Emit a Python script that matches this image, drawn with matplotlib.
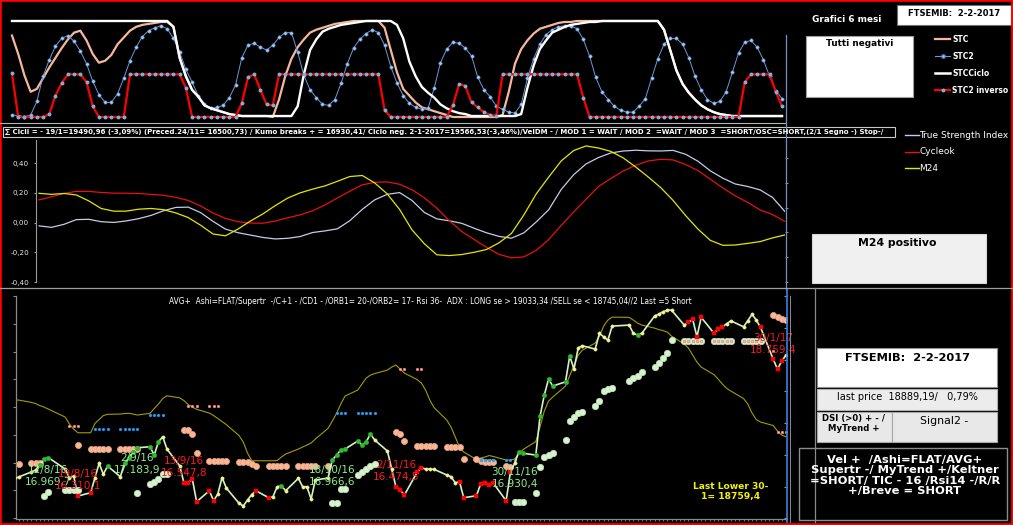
import numpy as np
import pandas as pd
import matplotlib
matplotlib.use('Agg')
import matplotlib.pyplot as plt
import matplotlib.dates as mdates
from matplotlib.patches import Rectangle
from matplotlib.lines import Line2D
from matplotlib.ticker import FuncFormatter, NullLocator

# ---------------- top panel: STC oscillators (125 sessions) ----------------
stc = [84, 65, 43, 26, 29, 40, 51, 61, 71, 80, 87, 89, 79, 65, 56, 58, 64, 75, 82, 89, 93, 95, 96, 97, 98, 98,
       93, 61, 42, 28, 21, 12, 9, 7, 5, 3, 2, 1, 1, 1, 1, 1,
       0, 18, 42, 60, 72, 80, 87, 90, 92, 94, 96, 97, 98, 99, 99, 99, 99, 99,
       92, 69, 46, 29, 22, 15, 10, 8, 6, 4, 2, 0, 0, 0, 0, 0, 0, 0, 0,
       2, 26, 55, 70, 79, 86, 91, 93, 95, 97, 98, 98, 99, 99, 99, 99, 99, 99, 99, 99, 99, 99, 99, 99, 99, 99,
       90, 69, 48, 34, 25, 18, 12, 8, 5, 3, 2, 1, 1, 1, 1, 1, 1, 1, 1, 1]
stc2 = [2, 1.5, 0.5, 2, 16, 42, 59, 73, 81, 84, 78, 68, 55, 37, 23, 15, 15, 24, 40, 58,
        72, 83, 89, 92, 94, 91, 81, 67, 49, 36, 22, 13, 9, 10, 12, 20, 33, 61, 74, 76,
        72, 69, 74, 82, 87, 87, 67, 43, 28, 20, 13, 12, 18, 35, 55, 71, 80, 86, 90, 87,
        74, 52, 35, 22, 14, 10, 8, 9, 30, 56, 70, 77, 76, 71, 63, 41, 28, 21, 11, 8,
        5, 4, 13, 40, 60, 75, 85, 90, 93, 94, 94, 91, 80, 63, 41, 26, 18, 11, 7, 5,
        5, 11, 19, 40, 60, 75, 81, 81, 75, 61, 42, 28, 18, 14, 16, 26, 46, 66, 77, 79,
        72, 59, 42, 27, 19]
stc_ciclo = [99, 99, 99, 99, 99, 99, 99, 99, 99, 99, 99, 99, 99, 99, 99, 99, 99, 99, 99, 99, 99, 99, 99, 99, 99, 99,
             93, 61, 42, 28, 21, 12, 9, 7, 5, 3, 2,
             1, 1, 1, 1, 1, 1, 1, 1, 1,
             11, 44, 69, 80, 88, 91, 93, 95, 96, 97, 98,
             99, 99, 99, 99, 99,
             95, 81, 57, 42, 31, 25, 20, 13, 9, 6, 4, 3,
             1, 1, 1, 1, 1, 1, 1, 1,
             3, 30, 53, 70, 79, 87, 90, 93, 95, 96, 97, 98, 98,
             99, 99, 99, 99, 99, 99, 99, 99, 99, 99,
             90, 69, 48, 34, 25, 18, 12, 8, 5, 3, 2,
             1, 1, 1, 1, 1, 1, 1, 1, 1]
stc2_inv = [45, 0, 0, 0, 0, 0, 3, 22, 35, 44, 44, 44, 36, 11, 0, 0, 0, 0, 0,
            44, 44, 44, 44, 44, 44, 44, 44, 44, 30, 0, 0, 0, 0, 0, 0, 0, 0,
            14, 41, 44, 28, 13, 12,
            44, 44, 44, 44, 44, 44, 44, 44, 44, 44, 44, 44, 44, 44, 44, 44, 44,
            7, 0, 0, 0, 0, 0, 0, 0, 0, 0, 0,
            12, 34, 32, 15, 10, 5, 2, 1,
            44, 44, 44, 44, 44, 44, 44, 44, 44, 44, 44, 44, 44, 20,
            0, 0, 0, 0, 0, 0, 0, 0, 0, 0, 0, 0, 0, 0, 0, 0, 0, 0, 0, 0, 0, 0, 0, 0, 0,
            36, 44, 44, 44, 44, 26, 11]

# ---------------- middle panel: TSI / Cycleok / M24 ----------------
tsi = [-0.022, -0.032, -0.012, 0.02, 0.022, 0.006, 0.001, 0.011, 0.026, 0.048,
       0.079, 0.102, 0.104, 0.067, 0.008, -0.044, -0.068, -0.084, -0.1, -0.11,
       -0.106, -0.094, -0.067, -0.056, -0.042, 0.013, 0.089, 0.153, 0.19, 0.202,
       0.149, 0.068, 0.025, 0.012, -0.005, -0.038, -0.069, -0.093, -0.105, -0.069,
       0.005, 0.087, 0.223, 0.322, 0.395, 0.438, 0.469, 0.482, 0.487, 0.483,
       0.482, 0.486, 0.46, 0.413, 0.348, 0.299, 0.26, 0.243, 0.22, 0.169, 0.074]
cycleok = [0.153, 0.173, 0.196, 0.21, 0.21, 0.203, 0.198, 0.198, 0.196, 0.19,
           0.184, 0.17, 0.149, 0.112, 0.064, 0.028, 0.006, -0.003, -0.004, 0.01,
           0.032, 0.052, 0.079, 0.119, 0.166, 0.211, 0.254, 0.271, 0.274, 0.258,
           0.221, 0.166, 0.097, 0.013, -0.06, -0.114, -0.167, -0.214, -0.237, -0.231,
           -0.186, -0.114, -0.019, 0.071, 0.157, 0.243, 0.297, 0.348, 0.386, 0.415,
           0.426, 0.422, 0.391, 0.35, 0.292, 0.233, 0.18, 0.136, 0.085, 0.054, 0.007]
m24 = [0.197, 0.19, 0.196, 0.186, 0.146, 0.095, 0.077, 0.077, 0.09, 0.095,
       0.087, 0.065, 0.034, -0.018, -0.077, -0.089, -0.044, 0.01, 0.058, 0.114,
       0.165, 0.2, 0.225, 0.247, 0.278, 0.31, 0.317, 0.267, 0.194, 0.089,
       -0.049, -0.143, -0.217, -0.222, -0.215, -0.2, -0.181, -0.136, -0.073, 0.052,
       0.194, 0.307, 0.415, 0.485, 0.516, 0.502, 0.479, 0.435, 0.374, 0.307,
       0.236, 0.149, 0.048, -0.044, -0.12, -0.153, -0.151, -0.14, -0.128, -0.103, -0.083]

# ---------------- bottom panel: FTSEMIB daily, 4/8/2016 - 2/2/2017 ----------------
first_day, last_day = '2016-08-04', '2017-02-02'
holidays = ['2016-08-15', '2016-12-26']
price = [16604, 16640, 16730, 16766, 16856, 16964, 16991, 16784, 16622, 16658, 16298, 16357, 16622, 16887, 16689, 16838, 16645, 16887, 16982,
         17090, 17167, 17185, 17036, 17275, 17365, 17144, 16843, 16537, 16537, 16599, 16195, 16393, 16213, 16334, 16631, 16442, 16167, 16118, 16226, 16325, 16393,
         16267, 16285, 16465, 16483, 16393, 16617, 16465, 16465, 16244, 16586, 16622, 16946, 17036, 17126, 17144, 17288, 17216, 17275, 17414, 17306, 17108,
         16784, 16465, 16406, 16316, 16725, 16807, 16784, 16784, 16779, 16676, 16645, 16537, 16555, 16267, 16303, 16519, 16537, 16496, 16527, 16213, 16725, 16887,
         17095, 17067, 17036, 17738, 18116, 18404, 18278, 18355, 18818, 18584, 18967, 19003, 18944, 19227, 19165, 19106, 19358, 19376, 19227, 19196, 19227,
         19538, 19574, 19615, 19646, 19646, 19376, 19425, 19479, 19165, 19515, 19232, 19299, 19345, 19399, 19453, 19345, 19457, 19569, 19466, 19335, 18759, 18584,
         18728, 18836]
# marker per session: y = neutral, g = up signal, r = down signal
signal = ("yyyygggyyyrryyygygg"
          "gggggyyyrrrrrryyyyyyyr"
          "ryygyyyyyyyggggggggyy"
          "yrrrrryyyyyyrrrrrrrrry"
          "gggggggggyyyyyyyyyygy"
          "yyyyyyrrrrrrryyyyyyrrr"
          "ry")
avg_line = [18026, 18026, 17985, 17963, 17927, 17900, 17864, 17720, 17594, 17504, 17437, 17437, 17603, 17675, 17747, 17769, 17774, 17783, 17787,
            17774, 17756, 17787, 17873, 17954, 18053, 18103, 18066, 18017, 17945, 17900, 17859, 17792, 17747, 17693, 17639, 17585, 17387, 17270, 17072, 16933, 16933,
            16933, 16933, 16937, 17000, 17054, 17144, 17180, 17216, 17252, 17324, 17517, 17648, 17787, 17954, 18098, 18206, 18314, 18422, 18476, 18503, 18566,
            18620, 18656, 18584, 18512, 18395, 18332, 18206, 18026, 17891, 17666, 17540, 17360, 17180, 17090, 16955, 16982, 17000, 17027, 17009, 16946, 16946, 16964,
            17063, 17135, 17279, 17545, 17828, 18008, 18080, 18278, 18467, 18647, 18836, 18926, 19052, 19178, 19358, 19466, 19520, 19515, 19466, 19412, 19376,
            19322, 19295, 19277, 19250, 19178, 19034, 18962, 18836, 18710, 18620, 18485, 18404, 18314, 18237, 18188, 18053, 17954, 17792, 17675, 17630, 17567, 17468,
            17396, 17365]
N = None
resist = [N, 16874, 16887, 16887, 16887, N, N, N, N, N, 17216, 17144, 17144, 17144, 17144, 17144, 17144, 17144, 17144,
          17144, 17144, N, N, N, N, N, N, 17486, 17486, 17409, 17077, 16928, 16928, 16928, 16928, 16928, 16915, 16915, 16915, 16874, 16838,
          16838, 16838, 16838, 16838, 16838, 16838, 16838, 16838, 16838, 16838, 16838, N, N, N, N, N, N, N, N, N, N,
          N, 17455, 17414, 17293, 17198, 17198, 17198, 17198, 17198, 17185, 17185, 17185, 17185, 16964, 16964, 16928, 16905, 16905, 16905, 16843, 16825, N,
          N, N, N, N, N, N, N, N, N, N, N, N, N, N, N, N, N, N, N, N, N,
          N, N, N, N, N, N, N, N, N, N, N, N, N, N, N, N, N, N, N, N, 19556, 19520,
          19493, 19466]
support = [N, N, N, N, N, 16298, 16375, 16406, 16406, 16406, 16406, N, N, N, N, N, N, N, N,
           N, 16357, 16514, 16555, 16604, 16694, 16694, N, N, N, N, N, N, N, N, N, N, N, N, N, N, N,
           N, N, N, N, N, N, N, N, N, N, N, 16177, 16177, 16419, 16419, 16676, 16730, 16784, 16838, 16874, N,
           N, N, N, N, N, N, N, N, N, N, N, N, N, N, N, N, N, N, N, N, N, 16185,
           16185, 16185, 16347, 16825, 17005, 17036, 17067, 17306, 17648, 17725, 17787, 17815, 17918, 18013, 18193, 18224, 18247, 18368, 18417, 18458, 18535,
           18625, 18687, 18777, 18877, 19106, 19093, 19093, 19093, 19093, 19093, 19093, 19093, 19093, 19093, 19093, 19093, 19093, 19093, 19093, 19093, N, N,
           N, N]
blue_dates = ['2016-08-23', '2016-08-24', '2016-08-25', '2016-08-26', '2016-08-29', '2016-08-30', '2016-08-31', '2016-09-01', '2016-09-02',
              '2016-09-05', '2016-09-06', '2016-09-07', '2016-09-08',
              '2016-10-19', '2016-10-20', '2016-10-21', '2016-10-24', '2016-10-25', '2016-10-26', '2016-10-27', '2016-10-28',
              '2016-11-22', '2016-11-23', '2016-11-24', '2016-11-25', '2016-11-28', '2016-11-29', '2016-11-30']
blue_vals = [17499, 17499, 17499, 17499, 17499, 17499, 17499, 17499, 17499,
             17756, 17756, 17756, 17756,
             17797, 17797, 17797, 17797, 17797, 17797, 17797, 17797,
             16941, 16941, 16941, 16941, 16941, 16941, 16941]
pink_dates = ['2016-08-17', '2016-08-18', '2016-08-19', '2016-09-14', '2016-09-15', '2016-09-16', '2016-09-19', '2016-09-20', '2016-09-21',
              '2016-11-03', '2016-11-04', '2016-11-07', '2016-11-08',
              '2017-01-09', '2017-01-10', '2017-01-11', '2017-01-12', '2017-01-13', '2017-01-16', '2017-01-17', '2017-01-18',
              '2017-01-19', '2017-01-20', '2017-01-23', '2017-01-24', '2017-01-25', '2017-01-26', '2017-01-27',
              '2017-01-30', '2017-01-31', '2017-02-01', '2017-02-02']
pink_vals = [17558, 17558, 17558, 17918, 17918, 17918, 17918, 17918, 17918,
             18579, 18579, 18579, 18579,
             19093, 19093, 19093, 19093, 19093, 19093, 19093, 19093, 19093, 19093, 19093, 19093, 19093, 19093, 19093,
             18908, 17445, 17445, 17445]
swing_dates = ['2016-08-12', '2016-08-19', '2016-09-02', '2016-09-13', '2016-10-18', '2016-11-02', '2016-11-30', '2017-01-30']
swing_vals = [16969.7, 16310.1, 17183.9, 16547.8, 16966.6, 16474.5, 16930.4, 18759.4]
swing_high = [True, False, True, False, True, False, True, False]

header2 = ("∑ Cicli = - 19/1=19490,96 (-3,09%) (Preced.24/11= 16500,73) / Kumo breaks + = 16930,41/ "
           "Ciclo neg. 2-1-2017=19566,53(-3,46%)/VelDM - / MOD 1 = WAIT / MOD 2  =WAIT / MOD 3  "
           "=SHORT/OSC=SHORT,(2/1 Segno -) Stop-/")
title3 = ("AVG+  Ashi=FLAT/Supertr  -/C+1 - /CD1 - /ORB1= 20-/ORB2= 17- Rsi 36-  ADX : LONG se > 19033,34 "
          "/SELL se < 18745,04//2 Last =5 Short")
summary = "Vel +  /Ashi=FLAT/AVG+\nSupertr -/ MyTrend +/Keltner\n=SHORT/ TIC - 16 /Rsi14 -/R/R\n+/Breve = SHORT"

days = pd.bdate_range(first_day, last_day)
days = days[~days.isin(pd.to_datetime(holidays))]
for s in (price, avg_line, resist, support, signal):
    assert len(s) == len(days), len(s)

W, H = 1013, 525
fig = plt.figure(figsize=(W / 100, H / 100), dpi=100, facecolor='black')
R = fig.canvas.get_renderer()


def pax(l, t, r, b):
    ax = fig.add_axes([l / W, 1 - b / H, (r - l) / W, (b - t) / H])
    ax.set_facecolor('none')
    for s in ax.spines.values():
        s.set_visible(False)
    return ax


def ftext(x, y, s, **kw):
    kw.setdefault('ha', 'center')
    kw.setdefault('va', 'center')
    return fig.text(x / W, 1 - y / H, s, **kw)


def fit(t, px):
    w = t.get_window_extent(renderer=R).width
    t.set_fontsize(t.get_fontsize() * px / w)


def fline(xs, ys, **kw):
    fig.add_artist(Line2D([x / W for x in xs], [1 - y / H for y in ys], **kw))


def fbox(l, t, r, b, fc, ec, lw=0.8):
    fig.add_artist(Rectangle((l / W, 1 - b / H), (r - l) / W, (b - t) / H, fc=fc, ec=ec, lw=lw,
                             transform=fig.transFigure))


# ---------------- top panel ----------------
ax1 = pax(8, 8, 786, 120)
i1 = np.arange(len(stc))
ax1.plot(i1, stc, color='#f6b89c', lw=1.6)
ax1.plot(i1, stc2, color='#6a9ad8', lw=0.7, marker='o', ms=2.4, mfc='#a8cbef', mec='#5a88c8', mew=0.4)
ax1.plot(i1, stc_ciclo, color='white', lw=1.7)
ax1.plot(i1, stc2_inv, color='#ff0000', lw=1.6, marker='o', ms=1.8, mfc='#7fb0d8', mec='#7fb0d8')
ax1.set_xlim(-0.644, 124.644)
ax1.set_ylim(-3.1, 112.4)
ax1.set_xticks([])
ax1.set_yticks([])

t = ftext(846.5, 19, 'Grafici 6 mesi', color='white', weight='bold')
fit(t, 69)
fbox(897, 5, 1011, 25, 'white', '#707070')
t = ftext(954, 13.5, 'FTSEMIB:  2-2-2017', color='black', weight='bold')
fit(t, 93)
fbox(806, 36, 913, 97, 'white', '#a0a0a0')
t = ftext(859.5, 43.5, 'Tutti negativi', color='black', weight='bold')
fit(t, 67)

leg1 = [('STC', dict(color='#f6b89c', lw=1.6)),
        ('STC2', dict(color='#6a9ad8', lw=0.8, marker='o', ms=2.4, mfc='#a8cbef', mec='#5a88c8', markevery=[1])),
        ('STCCiclo', dict(color='white', lw=1.8)),
        ('STC2 inverso', dict(color='#ff0000', lw=1.6, marker='o', ms=1.8, mfc='#7fb0d8', mec='#7fb0d8', markevery=[1]))]
for k, (lab, st) in enumerate(leg1):
    y = 39.3 + k * 16.9
    fline([935, 942.5, 950], [y, y, y], **st)
    t = ftext(952, y, lab, color='white', weight='bold', ha='left')
    if lab == 'STC2 inverso':
        fit(t, 56)
for tt in fig.texts[-4:]:
    tt.set_fontsize(fig.texts[-1].get_fontsize())

fline([785.5, 785.5], [35, 290], color='#7090c8', lw=0.9)

# separators
fline([0, 785], [123.3, 123.3], color='#b4b4b4', lw=0.8)
fline([0, W], [288.3, 288.3], color='#a0a0a0', lw=0.9)

# ---------------- middle panel ----------------
fbox(2.5, 126.7, 895, 137, 'black', '#c8c8c8')
t = ftext(5, 132, header2, color='white', weight='bold', ha='left')
fit(t, 886)

ax2 = pax(36, 140, 785, 282)
j2 = np.arange(len(tsi))
ax2.plot(j2, tsi, color='#c4cce6', lw=0.9)
ax2.plot(j2, cycleok, color='#e81010', lw=0.9)
ax2.plot(j2, m24, color='#e6e600', lw=0.9)
ax2.set_xlim(-0.241, 60.0)
ax2.set_ylim(-0.40, 0.556)
ax2.spines['left'].set_visible(True)
ax2.spines['left'].set_color('#9a9a9a')
ax2.spines['left'].set_linewidth(0.8)
ax2.set_xticks([])
ax2.set_yticks([-0.4, -0.2, 0.0, 0.2, 0.4])
ax2.yaxis.set_major_formatter(FuncFormatter(lambda v, _: f"{v:.2f}".replace('.', ',')))
ax2.tick_params(axis='y', colors='#9a9a9a', labelcolor='#e6e6e6', labelsize=5.2, length=1.5, width=0.8, pad=3.5)

ax2r = ax2.twinx()
ax2r.set_facecolor('none')
for s in ax2r.spines.values():
    s.set_visible(False)
ax2r.set_ylim(0, 5.73)
ax2r.set_yticks(range(6))
ax2r.set_yticklabels([])
ax2r.tick_params(axis='y', colors='#909090', length=2.2, width=0.8, direction='out')

leg2 = [('True Strength Index', '#c4cce6'), ('Cycleok', '#e81010'), ('M24', '#e6e600')]
for k, (lab, c) in enumerate(leg2):
    y = 135 + k * 16.7
    fline([905, 918.5], [y, y], color=c, lw=1)
    t = ftext(919.5, y, lab, color='white', ha='left')
    if k == 0:
        fit(t, 89)
for tt in fig.texts[-3:]:
    tt.set_fontsize(fig.texts[-3].get_fontsize())

fbox(812, 234, 986, 283, '#f0f0f0', '#d8d8d8')
t = ftext(897.5, 243.5, 'M24 positivo', color='black', weight='bold')
fit(t, 79)

# ---------------- bottom panel ----------------
ax3 = pax(16, 296, 787, 519)
end = mdates.date2num(pd.Timestamp(last_day))
ax3.plot(days, avg_line, color='#a49c00', lw=0.8, zorder=1)
ax3.plot(days, np.array(resist, dtype=float), ls='none', marker='o', ms=4.4, mfc='#f7b797', mec='#eea080',
         mew=0.5, zorder=2)
ax3.plot(days, np.array(support, dtype=float), ls='none', marker='o', ms=4.6, mfc='#d6f2ce', mec='#c4e8bc',
         mew=0.5, zorder=2)
ax3.plot(pd.to_datetime(blue_dates), blue_vals, ls='none', marker='o', ms=2.0, mfc='#28a8f8', mec='#1890e0',
         mew=0.3, zorder=3)
ax3.plot(pd.to_datetime(pink_dates), pink_vals, ls='none', marker='o', ms=1.9, mfc='#ffb8b0', mec='#e87070',
         mew=0.4, zorder=3)
ax3.plot(days, price, color='#d4f2c4', lw=1.2, zorder=4)
sig = np.array(list(signal))
pr = np.array(price)
ax3.plot(days[sig == 'y'], pr[sig == 'y'], ls='none', marker='o', ms=2.4, mfc='#f4f49a', mec='#e8e880',
         mew=0.3, zorder=5)
ax3.plot(days[sig == 'g'], pr[sig == 'g'], ls='none', marker='o', ms=3.2, mfc='#2ebd2e', mec='#24a024',
         mew=0.4, zorder=5)
ax3.plot(days[sig == 'r'], pr[sig == 'r'], ls='none', marker='s', ms=2.9, mfc='#ff0000', mec='#ff0000',
         mew=0.3, zorder=5)

for d, v, hi in zip(pd.to_datetime(swing_dates), swing_vals, swing_high):
    lab = f"{d.day}/{d.month}/{d.year % 100}\n" + f"{v:,.1f}".replace(',', 'X').replace('.', ',').replace('X', '.')
    ax3.annotate(lab, (d, v), xytext=(0, -4.6 if hi else 2.8), textcoords='offset points',
                 ha='center', va='top' if hi else 'bottom', fontsize=7.5, linespacing=1.25,
                 color='#8ef08e' if hi else '#ff1a1a', zorder=6)

ax3.set_xlim(end - 181.6, end + 0.24)
ax3.set_ylim(15884, 19898)
for side in ('left', 'bottom'):
    ax3.spines[side].set_visible(True)
    ax3.spines[side].set_color('#8a8a8a')
    ax3.spines[side].set_linewidth(0.9)
ax3.set_yticks(range(15900, 19901, 500))
ax3.set_yticklabels([])
ax3.xaxis.set_major_locator(NullLocator())
ax3.xaxis.set_minor_locator(mdates.DayLocator())
ax3.tick_params(axis='y', colors='#8a8a8a', length=2.5, width=0.8)
ax3.tick_params(axis='x', which='minor', colors='#8a8a8a', length=1.6, width=0.6)

ax3r = ax3.twinx()
ax3r.set_facecolor('none')
for s in ax3r.spines.values():
    s.set_visible(False)
ax3r.set_ylim(-0.022, 7.007)
ax3r.set_yticks(range(8))
ax3r.set_yticklabels([])
ax3r.tick_params(axis='y', colors='#7f95b8', length=2.5, width=0.8, direction='in')

t = ftext(169, 302, title3, color='white', ha='left')
fit(t, 524)

t = ftext(731, 491.5, 'Last Lower 30-\n1= 18759,4', color='#f2f200', weight='bold', linespacing=1.15)
fit(t, 76)

fline([786.7, 786.7], [290, 522], color='#3d7ee0', lw=1.2)
fline([789.6, 789.6], [296, 522], color='#7f8fa8', lw=0.7)
fline([814.5, 814.5], [288, 522], color='#8a8a8a', lw=0.9)

# right-hand info boxes
fbox(817, 348, 997, 386.5, 'white', '#909090')
t = ftext(907, 358, 'FTSEMIB:  2-2-2017', color='black', weight='bold')
fit(t, 126)
fbox(817, 388.5, 997, 410, '#ececec', '#b0b0b0')
t = ftext(907.5, 396.5, 'last price  18889,19/   0,79%', color='black')
fit(t, 142)
fbox(816.5, 411.5, 891.5, 441.5, '#e8e8e8', '#a8a8a8')
t = ftext(853.5, 423.5, 'DSI (>0) + - /\nMyTrend +', color='black', weight='bold', linespacing=1.1)
fit(t, 63)
fbox(891.5, 411.5, 997, 441.5, '#e8e8e8', '#a8a8a8')
t = ftext(944, 420.5, 'Signal2 -', color='black')
fit(t, 48)
fbox(798.5, 447.5, 1006.5, 519.5, 'black', '#8c8c8c', lw=1)
t = ftext(905, 475.5, summary, color='white', weight='bold', linespacing=1.05)
fit(t, 190)

# red frame
fig.add_artist(Rectangle((0, 0), 1, 1, transform=fig.transFigure, fill=False, ec='#ff0000', lw=2.6))

fig.savefig('out.png', dpi=100, facecolor='black')
